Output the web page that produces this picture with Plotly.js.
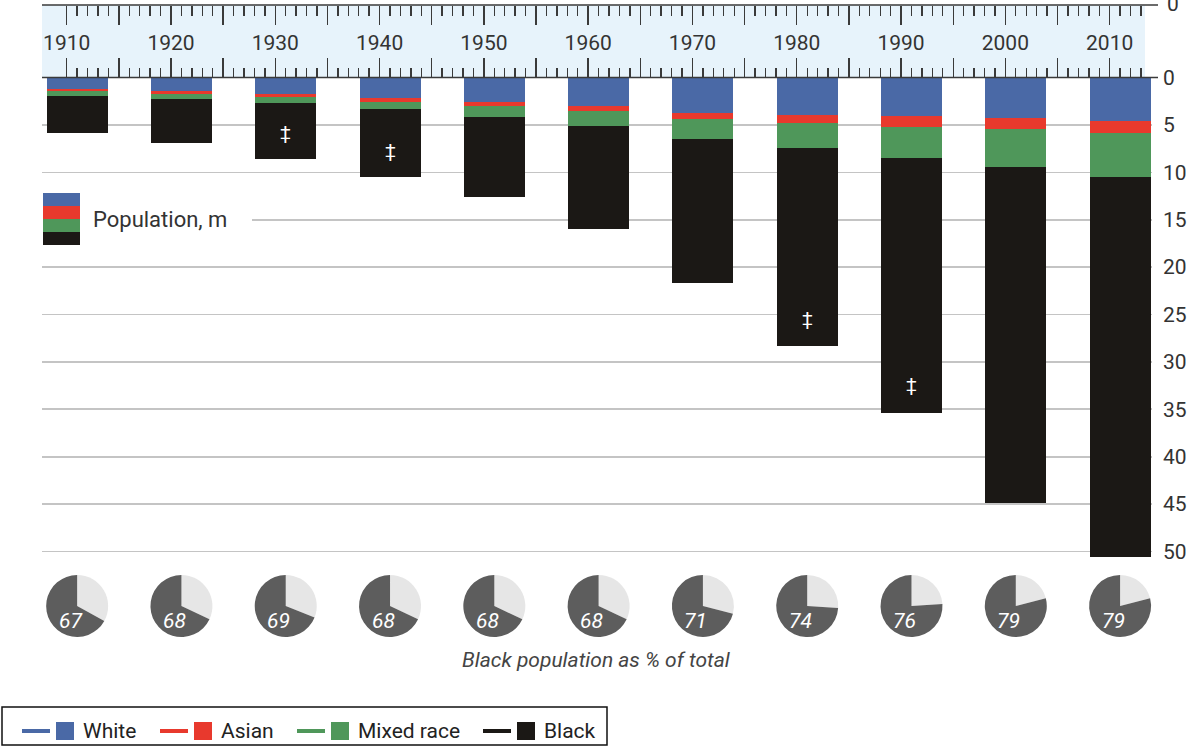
<!DOCTYPE html>
<html>
<head>
<meta charset="utf-8">
<script src="https://cdn.plot.ly/plotly-3.0.1.min.js"></script>
<style>html,body{margin:0;padding:0;background:#fff;}#chart{width:1195px;height:746px;}</style>
</head>
<body>
<div id="chart"></div>
<script>
// ---- data ----
const years = [1910,1920,1930,1940,1950,1960,1970,1980,1990,2000,2010];
const yearLabels = ['1910','1920','1930','1940','1950','1960','1970','1980','1990','2000','2010'];
const white = [1.25,1.45,1.75,2.15,2.57,3.0,3.7,3.95,4.1,4.26,4.58];
const asian = [0.22,0.25,0.29,0.39,0.42,0.56,0.67,0.9,1.1,1.2,1.27];
const mixed = [0.47,0.52,0.63,0.82,1.17,1.54,2.08,2.61,3.25,4.0,4.6];
const black = [3.96,4.68,5.9,7.15,8.45,10.9,15.25,20.9,26.95,35.45,40.15];
const blackShare = [67,68,69,68,68,68,71,74,76,79,79];
const seriesNames = ['White','Asian','Mixed race','Black'];
const seriesColors = ['#4a69a6','#e8392d','#4f975a','#1b1815'];
const yTicks = [0,5,10,15,20,25,30,35,40,45,50];
const daggerYears = [1930,1940,1980,1990];
const daggerDepth = [5.85,7.65,25.4,32.4];

// ---- geometry helpers ----
const W=1195,H=746;
const px = x=>x/W, py = y=>1-y/H;
const X0=42, X1=1152, R0=1907.63, R1=2014.06;
const Y0=77.5, Y1=560, YMAX=(Y1-Y0)/9.48;
const FONT='Roboto, "Open Sans", sans-serif';
const BAR_W=5.85, BAR_OFF=1-BAR_W/2;
const xToPx = v => X0 + (v-R0)/(R1-R0)*(X1-X0);

// ---- traces ----
const vals=[white,asian,mixed,black];
const traces = vals.map((v,i)=>({
  type:'bar', x:years, y:v, name:seriesNames[i], xaxis:'x', yaxis:'y',
  width:BAR_W, offset:BAR_OFF, marker:{color:seriesColors[i], line:{width:0}},
  showlegend:false, hoverinfo:'skip'
}));

const PR=31;
years.forEach((yr,i)=>{
  const cx = xToPx(yr+1), cy=606;
  traces.push({
    type:'pie', values:[100-blackShare[i], blackShare[i]], sort:false,
    direction:'clockwise', rotation:0, textinfo:'none', hoverinfo:'skip',
    marker:{colors:['#e6e6e6','#5d5d5d'], line:{width:0}}, showlegend:false,
    domain:{x:[px(cx-PR),px(cx+PR)], y:[py(cy+PR),py(cy-PR)]}
  });
});

// ---- ticks ----
const majorVals=[], majorText=[], minorVals=[];
for(let y=1910;y<=2013;y++){
  if(y%5===0){ majorVals.push(y); majorText.push(y%10===0? yearLabels[(y-1910)/10]:''); }
  else minorVals.push(y);
}

const shapes=[], annotations=[];
// pale band
shapes.push({type:'rect',xref:'paper',yref:'paper',x0:px(42),x1:px(1145),y0:py(77),y1:py(5),fillcolor:'#e7f3fb',line:{width:0},layer:'below'});
// ruler lines
shapes.push({type:'line',xref:'paper',yref:'paper',x0:px(42),x1:px(1158),y0:py(5),y1:py(5),line:{color:'#3a3a3a',width:1.6},layer:'above'});
shapes.push({type:'line',xref:'paper',yref:'paper',x0:px(42),x1:px(1158),y0:py(77.5),y1:py(77.5),line:{color:'#3a3a3a',width:1.6},layer:'above'});

// in-plot key "Population, m"
shapes.push({type:'rect',xref:'paper',yref:'paper',x0:px(40),x1:px(252),y0:py(250),y1:py(186),fillcolor:'#ffffff',line:{width:0},layer:'above'});
const keyY=[193,206,219,232,245];
for(let i=0;i<4;i++){
  shapes.push({type:'rect',xref:'paper',yref:'paper',x0:px(43),x1:px(80),y0:py(keyY[i+1]),y1:py(keyY[i]),fillcolor:seriesColors[i],line:{width:0},layer:'above'});
}
annotations.push({xref:'paper',yref:'paper',x:px(91),y:py(220),xanchor:'left',yanchor:'middle',text:'Population, m',showarrow:false,font:{family:FONT,size:22,color:'#333'}});

// top cut-off "0"
annotations.push({xref:'paper',yref:'paper',x:px(1173),y:py(4),xanchor:'center',yanchor:'middle',text:'0',showarrow:false,font:{family:FONT,size:21,color:'#333'}});

// daggers
daggerYears.forEach((yr,i)=>{
  annotations.push({xref:'x',yref:'y',x:yr+1,y:daggerDepth[i],xanchor:'center',yanchor:'middle',text:'‡',showarrow:false,font:{family:FONT,size:19,color:'#ffffff'}});
});

// pie labels
years.forEach((yr,i)=>{
  const cx=xToPx(yr+1);
  annotations.push({xref:'paper',yref:'paper',x:px(cx-7),y:py(621),xanchor:'center',yanchor:'middle',text:String(blackShare[i]),showarrow:false,font:{family:FONT,size:21,color:'#ffffff',style:'italic'}});
});
annotations.push({xref:'paper',yref:'paper',x:px(596),y:py(660),xanchor:'center',yanchor:'middle',text:'Black population as % of total',showarrow:false,font:{family:FONT,size:21,color:'#444',style:'italic'}});

// bottom legend
shapes.push({type:'rect',xref:'paper',yref:'paper',x0:px(2),x1:px(607),y0:py(745),y1:py(707),fillcolor:'rgba(0,0,0,0)',line:{color:'#111',width:1.5},layer:'above'});
const legX=[22,160,297,483];
for(let i=0;i<4;i++){
  const lx=legX[i];
  shapes.push({type:'line',xref:'paper',yref:'paper',x0:px(lx),x1:px(lx+28),y0:py(731),y1:py(731),line:{color:seriesColors[i],width:4},layer:'above'});
  shapes.push({type:'rect',xref:'paper',yref:'paper',x0:px(lx+34),x1:px(lx+52),y0:py(740),y1:py(722),fillcolor:seriesColors[i],line:{width:0},layer:'above'});
  annotations.push({xref:'paper',yref:'paper',x:px(lx+59),y:py(731),xanchor:'left',yanchor:'middle',text:seriesNames[i],showarrow:false,font:{family:FONT,size:21,color:'#222'}});
}

const layout = {
  width:W, height:H, margin:{l:0,r:0,t:0,b:0}, paper_bgcolor:'#fff', plot_bgcolor:'rgba(0,0,0,0)',
  barmode:'stack', bargap:0, showlegend:false,
  font:{family:FONT,color:'#333'},
  xaxis:{domain:[px(X0),px(X1)], range:[R0,R1], side:'top', anchor:'y', showgrid:false, zeroline:false, showline:false,
    tickmode:'array', tickvals:majorVals, ticktext:majorVals.map(()=>''), ticks:'outside', ticklen:19, tickwidth:1.4, tickcolor:'#3a3a3a',
    showticklabels:false,
    minor:{tickmode:'array', tickvals:minorVals, ticks:'outside', ticklen:9, tickwidth:1.4, tickcolor:'#3a3a3a', showgrid:false}},
  xaxis2:{overlaying:'x', anchor:'free', position:py(5), side:'bottom', range:[R0,R1], domain:[px(X0),px(X1)],
    showgrid:false, zeroline:false, showline:false,
    tickmode:'array', tickvals:majorVals, ticktext:majorText, ticks:'outside', ticklen:19, tickwidth:1.4, tickcolor:'#3a3a3a',
    tickfont:{family:FONT,size:21,color:'#333'}, ticklabelstandoff:0,
    minor:{tickmode:'array', tickvals:minorVals, ticks:'outside', ticklen:10, tickwidth:1.4, tickcolor:'#3a3a3a', showgrid:false}},
  yaxis:{domain:[py(Y1),py(Y0)], range:[YMAX,0], side:'right', anchor:'x', tickmode:'array', tickvals:yTicks,
    showgrid:true, gridcolor:'#c4c4c4', gridwidth:1.6, zeroline:false, showline:false, ticks:'',
    tickfont:{family:FONT,size:21,color:'#333'}, ticklabelstandoff:10},
  shapes:shapes, annotations:annotations
};

// dummy trace so xaxis2 is rendered
traces.push({type:'scatter', x:[R0], y:[0], xaxis:'x2', yaxis:'y', mode:'markers', marker:{opacity:0}, hoverinfo:'skip', showlegend:false});

Plotly.newPlot('chart', traces, layout, {displayModeBar:false, staticPlot:true});
</script>
</body>
</html>
